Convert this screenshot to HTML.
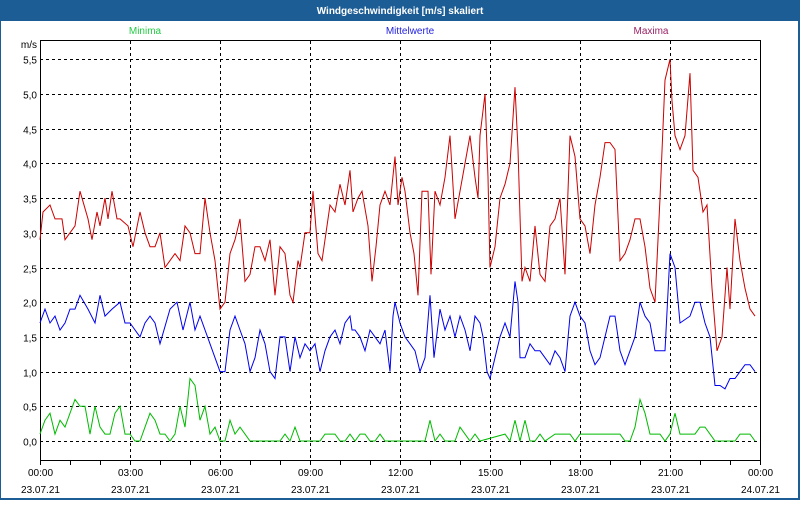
<!DOCTYPE html>
<html><head><meta charset="utf-8"><style>
body{margin:0;width:800px;height:500px;overflow:hidden;background:#fff;font-family:"Liberation Sans",sans-serif}
</style></head><body>
<svg id="s" width="800" height="500" xmlns="http://www.w3.org/2000/svg" font-family="Liberation Sans, sans-serif" font-size="10">
<rect x="0" y="0" width="800" height="500" fill="#1c5d96"/>
<rect x="1" y="21" width="797" height="477" fill="#fff"/>
<text x="400" y="14" fill="#fff" font-weight="bold" font-size="10" text-anchor="middle">Windgeschwindigkeit [m/s] skaliert</text>
<text x="145" y="34" fill="#22cc44" text-anchor="middle">Minima</text>
<text x="410" y="34" fill="#2222dd" text-anchor="middle">Mittelwerte</text>
<text x="651" y="34" fill="#992266" text-anchor="middle">Maxima</text>
<text x="37" y="48" text-anchor="end">m/s</text>
<g id="grid" stroke="#000" stroke-dasharray="3,3" stroke-width="1"></g>
<g id="lab"></g>
<rect x="40.5" y="40.5" width="720" height="420" fill="none" stroke="#000"/>
<g id="ser" fill="none" stroke-width="1"></g>
</svg>
<script>
var NS="http://www.w3.org/2000/svg";
function el(t,a,p,txt){var e=document.createElementNS(NS,t);for(var k in a)e.setAttribute(k,a[k]);if(txt!==undefined)e.textContent=txt;document.getElementById(p).appendChild(e);return e;}
function Y(v){return 441-v*69.4;}
for(var i=0;i<=11;i++){var v=i*0.5,y=Math.round(Y(v))+0.5;el('line',{x1:40,x2:760,y1:y,y2:y},'grid');el('text',{x:37,y:y+4,'text-anchor':'end'},'lab',(v.toFixed(1)).replace('.',','));}
var times=['00:00','03:00','06:00','09:00','12:00','15:00','18:00','21:00','00:00'];
for(var i=0;i<=8;i++){var x=40+i*90+0.5;if(i>0&&i<8)el('line',{x1:x,x2:x,y1:41,y2:461},'grid');
el('text',{x:x,y:476,'text-anchor':'middle'},'lab',times[i]);el('text',{x:x,y:493,'text-anchor':'middle'},'lab',i==8?'24.07.21':'23.07.21');}
for(var i=0;i<=24;i++){var x=40+i*30+0.5;el('line',{x1:x,x2:x,y1:461,y2:465,stroke:'#000'},'lab');}
var R=[40,2.9,43,3.3,50,3.4,55,3.2,62,3.2,65,2.9,70,3.0,75,3.1,80,3.6,88,3.2,92,2.9,97,3.3,100,3.1,105,3.5,108,3.2,112,3.6,117,3.2,120,3.2,128,3.1,133,2.8,140,3.3,145,3.0,150,2.8,155,2.8,160,3.0,165,2.5,170,2.6,175,2.7,180,2.6,185,3.1,190,3.0,195,2.7,200,2.7,205,3.5,210,3.0,215,2.6,220,1.9,225,2.0,230,2.7,235,2.9,240,3.2,245,2.3,250,2.4,255,2.8,260,2.8,265,2.6,270,2.9,275,2.1,280,2.8,285,2.7,290,2.1,293,2.0,298,2.6,300,2.5,305,3.0,310,3.0,313,3.6,318,2.7,322,2.6,330,3.4,335,3.3,340,3.7,345,3.4,350,3.9,353,3.3,358,3.5,362,3.6,368,3.1,372,2.3,376,2.8,380,3.4,385,3.6,390,3.4,395,4.1,398,3.4,402,3.8,405,3.6,410,3.0,414,2.7,418,2.1,422,3.6,428,3.6,431,2.4,435,3.6,440,3.4,445,3.8,450,4.4,455,3.2,460,3.6,465,4.0,470,4.4,475,3.8,478,3.5,480,4.4,485,5.0,488,3.8,490,2.5,495,2.8,500,3.5,505,3.7,510,4.0,515,5.1,518,4.2,522,2.3,525,2.5,530,2.3,535,3.1,540,2.4,545,2.3,550,3.1,555,3.2,560,3.5,565,2.4,570,4.4,575,4.1,580,3.2,585,3.1,590,2.7,595,3.4,600,3.8,605,4.3,610,4.3,615,4.2,620,2.6,625,2.7,630,2.9,635,3.2,640,3.2,645,2.8,650,2.2,655,2.0,660,3.5,665,5.2,670,5.5,672,4.9,675,4.4,680,4.2,685,4.4,690,5.3,693,3.9,698,3.8,703,3.3,707,3.4,712,2.2,717,1.3,722,1.5,727,2.5,730,1.9,735,3.2,740,2.6,745,2.2,750,1.9,755,1.8];
var B=[40,1.7,45,1.9,50,1.7,55,1.8,60,1.6,65,1.7,70,1.9,75,1.9,80,2.1,88,1.9,95,1.7,100,2.1,105,1.8,112,1.9,120,2.0,125,1.7,130,1.7,140,1.5,145,1.7,150,1.8,155,1.7,160,1.4,170,1.9,177,2.0,183,1.6,190,2.0,195,1.6,200,1.8,210,1.4,215,1.2,220,1.0,225,1.0,230,1.6,235,1.8,240,1.6,245,1.4,250,1.0,255,1.2,260,1.6,265,1.4,270,1.0,275,0.9,280,1.5,285,1.5,290,1.0,295,1.5,300,1.2,305,1.4,310,1.3,315,1.4,320,1.0,325,1.3,330,1.5,335,1.6,340,1.4,345,1.7,350,1.8,352,1.6,355,1.6,360,1.5,365,1.3,370,1.6,375,1.5,380,1.4,385,1.6,390,1.0,393,1.8,395,2.0,400,1.7,405,1.5,410,1.4,415,1.3,420,1.0,425,1.2,430,2.1,434,1.2,440,1.9,445,1.6,450,1.8,455,1.5,460,1.8,465,1.6,470,1.3,475,1.8,480,1.7,483,1.5,487,1.0,490,0.9,495,1.2,500,1.5,505,1.7,510,1.5,515,2.3,518,2.0,520,1.2,525,1.2,530,1.4,535,1.3,540,1.3,545,1.2,550,1.1,555,1.3,560,1.2,565,1.0,570,1.8,575,2.0,580,1.8,585,1.7,590,1.3,595,1.1,600,1.2,605,1.5,610,1.8,615,1.8,620,1.3,625,1.1,630,1.3,635,1.5,640,2.0,645,1.8,650,1.7,655,1.3,660,1.3,665,1.3,670,2.7,675,2.5,680,1.7,690,1.8,695,2.0,700,2.0,705,1.7,710,1.5,715,0.8,720,0.8,725,0.75,730,0.9,735,0.9,740,1.0,745,1.1,750,1.1,755,1.0];
var G=[40,0.1,45,0.3,50,0.4,55,0.1,60,0.3,65,0.2,70,0.4,75,0.6,80,0.5,85,0.5,90,0.1,95,0.5,100,0.2,105,0.1,110,0.1,115,0.4,120,0.5,125,0.1,130,0.1,135,0,140,0,145,0.2,150,0.4,155,0.3,160,0.1,165,0.1,170,0,175,0.1,180,0.5,185,0.2,190,0.9,195,0.8,200,0.3,205,0.5,210,0.1,215,0.2,220,0,225,0,230,0.3,235,0.1,240,0.2,245,0.1,250,0,280,0,285,0.1,290,0,295,0.2,300,0,320,0,325,0.1,335,0.1,340,0,345,0,350,0.1,355,0,360,0.1,365,0.1,370,0,375,0,380,0.1,385,0,425,0,430,0.3,435,0,440,0.1,445,0,455,0,460,0.2,465,0.1,470,0,475,0.1,480,0,505,0.1,510,0,515,0.3,520,0,525,0.3,530,0,535,0,540,0.1,545,0,555,0.1,570,0.1,575,0,580,0.1,620,0.1,625,0,630,0,635,0.2,640,0.6,645,0.4,650,0.1,660,0.1,665,0,670,0.1,675,0.4,680,0.1,695,0.1,700,0.2,705,0.2,710,0.1,715,0,735,0,740,0.1,750,0.1,755,0];
function pl(a,c){var p=[];for(var i=0;i<a.length;i+=2)p.push(a[i]+','+Y(a[i+1]).toFixed(1));el('polyline',{points:p.join(' '),stroke:c},'ser');}
pl(G,'#00bb00');pl(B,'#0000ee');pl(R,'#cc0000');
</script>
</body></html>
